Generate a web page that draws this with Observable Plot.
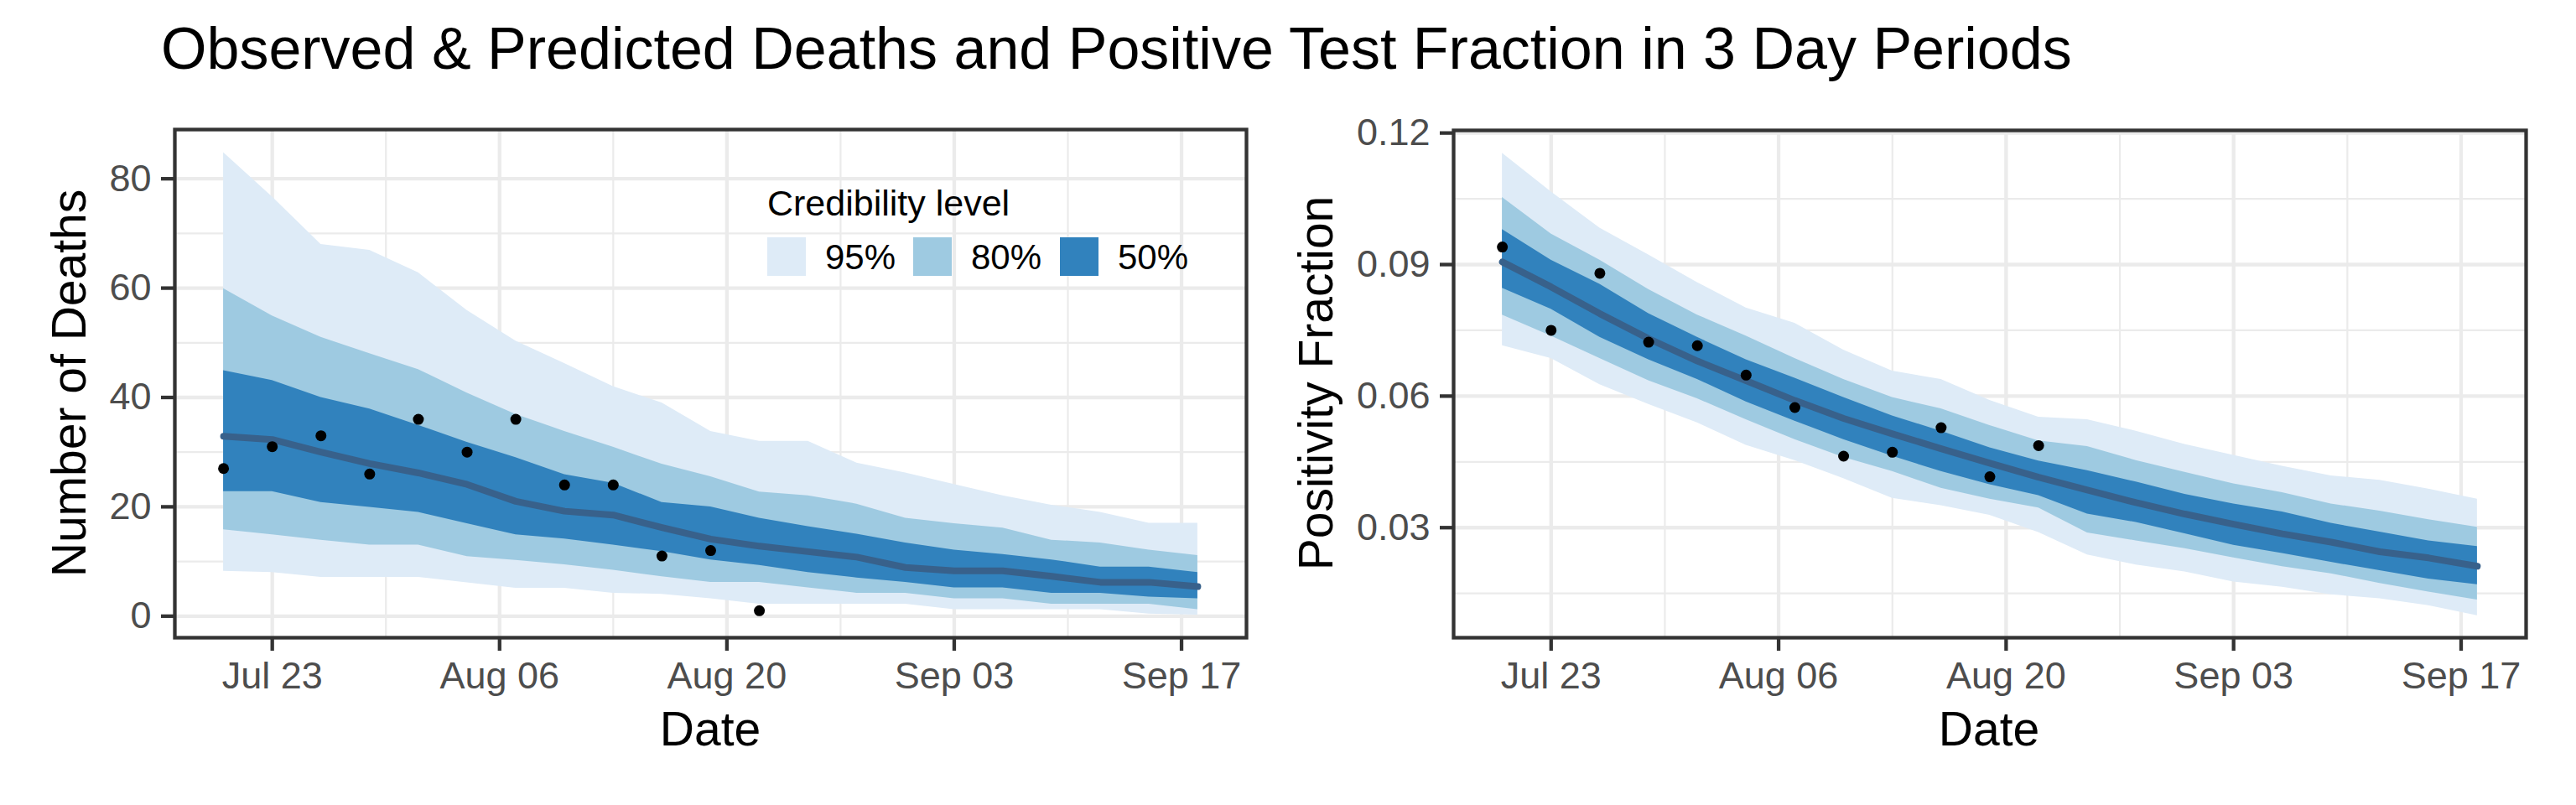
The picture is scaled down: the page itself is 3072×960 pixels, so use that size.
<!DOCTYPE html>
<html><head><meta charset="utf-8">
<script src="https://cdn.jsdelivr.net/npm/d3@7"></script>
<script src="https://cdn.jsdelivr.net/npm/@observablehq/plot@0.6"></script>
<style>
body{margin:0;background:#fff;}
#wrap{position:relative;width:3072px;height:960px;background:#fff;font-family:"Liberation Sans",Arial,sans-serif;overflow:hidden;}
.abs{position:absolute;white-space:nowrap;line-height:1;}
.chart{position:absolute;top:130px;}
</style></head><body><div id="wrap"></div>
<script>
// ---- data ----
const dates = ["2020-07-20","2020-07-23","2020-07-26","2020-07-29","2020-08-01","2020-08-04","2020-08-07","2020-08-10","2020-08-13","2020-08-16","2020-08-19","2020-08-22","2020-08-25","2020-08-28","2020-08-31","2020-09-03","2020-09-06","2020-09-09","2020-09-12","2020-09-15","2020-09-18"];

const deathsHi95 = [84.8, 76.7, 68, 66.9, 62.8, 55.9, 50.3, 46.2, 42, 39, 33.8, 32, 32, 28, 26.2, 24.1, 22, 20.3, 19, 17, 17];
const deathsHi80 = [59.9, 54.9, 51, 48, 45.1, 40.8, 36.9, 33.8, 30.9, 27.8, 25.5, 22.7, 22, 20.5, 17.9, 16.9, 16.1, 13.9, 13.4, 12.1, 11.1];
const deathsHi50 = [44.9, 43.1, 40, 37.9, 34.9, 31.8, 29, 25.9, 24.3, 20.8, 20, 17.9, 16.4, 15, 13.4, 12.1, 11.3, 10.3, 9, 9, 8];
const deathsMed  = [32.9, 32.3, 30, 27.9, 26.2, 24.1, 21, 19.2, 18.5, 16.2, 14.1, 12.8, 11.8, 10.8, 8.9, 8.3, 8.3, 7.3, 6.2, 6.2, 5.4];
const deathsLo50 = [22.8, 22.8, 20.8, 19.9, 19, 16.9, 14.9, 14.1, 13, 11.8, 10.3, 9.3, 8, 7, 6.2, 5.2, 5.2, 4.2, 4.2, 3.5, 3.2];
const deathsLo80 = [15.8, 14.9, 13.9, 13, 13, 10.9, 10.2, 9.4, 8.4, 7.2, 6.2, 6.2, 5.2, 4.2, 4.2, 3.2, 3.2, 2.2, 2.2, 2.2, 1.2];
const deathsLo95 = [8.2, 8, 7.1, 7.1, 7.1, 6.1, 5.1, 5.1, 4.2, 4, 3.2, 2.2, 2.2, 2.2, 2.2, 1.2, 1.2, 1.2, 1.2, 0.4, 0.2];
const deathsObs  = [27, 31, 33, 26, 36, 30, 36, 24, 24, 11, 12, 1];

const posHi95 = [0.1154, 0.1066, 0.0983, 0.0922, 0.0859, 0.0801, 0.0766, 0.0705, 0.0657, 0.0638, 0.059, 0.0552, 0.0546, 0.052, 0.049, 0.0465, 0.044, 0.0418, 0.0408, 0.0388, 0.0365];
const posHi80 = [0.1053, 0.097, 0.091, 0.0843, 0.0785, 0.0737, 0.0686, 0.0638, 0.0597, 0.0571, 0.0533, 0.0498, 0.0485, 0.0453, 0.0426, 0.04, 0.038, 0.0354, 0.0338, 0.0318, 0.0301];
const posHi50 = [0.098, 0.091, 0.0855, 0.0788, 0.0734, 0.0683, 0.0641, 0.0597, 0.0555, 0.052, 0.0482, 0.0452, 0.043, 0.0404, 0.0376, 0.0354, 0.0336, 0.031, 0.029, 0.027, 0.0257];
const posMed  = [0.0906, 0.0849, 0.0788, 0.0731, 0.068, 0.0635, 0.059, 0.0549, 0.0514, 0.048, 0.0447, 0.0415, 0.0386, 0.0357, 0.0331, 0.0308, 0.0286, 0.0267, 0.0245, 0.0231, 0.0212];
const posLo50 = [0.0846, 0.0798, 0.0734, 0.0683, 0.0638, 0.0587, 0.0543, 0.0501, 0.0463, 0.0428, 0.0398, 0.0373, 0.0331, 0.0312, 0.0286, 0.026, 0.0241, 0.0221, 0.0202, 0.0183, 0.017];
const posLo80 = [0.0785, 0.0737, 0.0686, 0.0635, 0.0594, 0.0546, 0.0501, 0.046, 0.0428, 0.039, 0.0365, 0.0345, 0.0288, 0.027, 0.0252, 0.0231, 0.0211, 0.0195, 0.0173, 0.0153, 0.0135];
const posLo95 = [0.0715, 0.0686, 0.0626, 0.0581, 0.0539, 0.0488, 0.0453, 0.0412, 0.0367, 0.035, 0.0328, 0.0289, 0.0238, 0.0215, 0.0199, 0.0176, 0.0164, 0.0147, 0.0138, 0.0122, 0.0099];
const posObs  = [0.094, 0.075, 0.088, 0.0723, 0.0715, 0.0648, 0.0574, 0.0463, 0.0472, 0.0528, 0.0416, 0.0487];

const levels = ["95%", "80%", "50%"];
const levelColors = ["#deebf7", "#9ecae1", "#3182bd"];
const medianColor = "#38618b";

const xTickDates = ["2020-07-23","2020-08-06","2020-08-20","2020-09-03","2020-09-17"];
const xMinorDates = ["2020-07-30","2020-08-13","2020-08-27","2020-09-10"];
const xDomainDates = ["2020-07-17","2020-09-21"];

const deathsTicks = [0, 20, 40, 60, 80];
const deathsMinor = [10, 30, 50, 70];
const posTicks = [0.03, 0.06, 0.09, 0.12];
const posMinor = [0.015, 0.045, 0.075, 0.105];

const titleText = "Observed & Predicted Deaths and Positive Test Fraction in 3 Day Periods";
const legendTitle = "Credibility level";

// ---- build ----
const D = s => new Date(s + "T00:00:00Z");
const xTicks = xTickDates.map(D), xMinor = xMinorDates.map(D), xDomain = xDomainDates.map(D);
const fmt = d3.utcFormat("%b %d");

function rowsOf(lo95, lo80, lo50, med, hi50, hi80, hi95) {
  return dates.map((d, i) => ({date: D(d), lo95: lo95[i], lo80: lo80[i], lo50: lo50[i], med: med[i], hi50: hi50[i], hi80: hi80[i], hi95: hi95[i]}));
}
const deathRows = rowsOf(deathsLo95, deathsLo80, deathsLo50, deathsMed, deathsHi50, deathsHi80, deathsHi95);
const posRows = rowsOf(posLo95, posLo80, posLo50, posMed, posHi50, posHi80, posHi95);
const deathPts = deathsObs.map((v, i) => ({date: D(dates[i]), value: v}));
const posPts = posObs.map((v, i) => ({date: D(dates[i]), value: v}));

const FONT = "Liberation Sans, Arial, sans-serif";

function panel({rows, pts, yDomain, yTicks, yMinor, yFormat, marginLeft, marginRight, marginTop}) {
  return Plot.plot({
    width: 1536, height: 830,
    marginLeft, marginRight, marginTop, marginBottom: 200,
    style: {fontFamily: FONT, background: "white", overflow: "visible"},
    x: {type: "utc", domain: xDomain},
    y: {domain: yDomain},
    marks: [
      Plot.ruleY(yMinor, {stroke: "#ebebeb", strokeWidth: 2.2}),
      Plot.ruleX(xMinor, {stroke: "#ebebeb", strokeWidth: 2.2}),
      Plot.ruleY(yTicks, {stroke: "#ebebeb", strokeWidth: 4.3}),
      Plot.ruleX(xTicks, {stroke: "#ebebeb", strokeWidth: 4.3}),
      Plot.areaY(rows, {x: "date", y1: "lo95", y2: "hi95", fill: levelColors[0]}),
      Plot.areaY(rows, {x: "date", y1: "lo80", y2: "hi80", fill: levelColors[1]}),
      Plot.areaY(rows, {x: "date", y1: "lo50", y2: "hi50", fill: levelColors[2]}),
      Plot.lineY(rows, {x: "date", y: "med", stroke: medianColor, strokeWidth: 8}),
      Plot.dot(pts, {x: "date", y: "value", r: 6.5, fill: "black"}),
      Plot.frame({stroke: "#333333", strokeWidth: 4.3}),
      Plot.axisX(xTicks, {tickFormat: fmt, tickSize: 16, tickPadding: 13, stroke: "#333333", strokeWidth: 4.3, fill: "#4d4d4d", fontSize: 45, label: null}),
      Plot.axisY(yTicks, {tickFormat: yFormat, tickSize: 16, tickPadding: 12, stroke: "#333333", strokeWidth: 4.3, fill: "#4d4d4d", fontSize: 45, label: null})
    ]
  });
}

const wrap = document.getElementById("wrap");

const left = panel({rows: deathRows, pts: deathPts, yDomain: [-3.94, 89.0], yTicks: deathsTicks, yMinor: deathsMinor, yFormat: d3.format("d"), marginLeft: 208, marginRight: 50, marginTop: 24});
left.classList.add("chart"); left.style.left = "0px";
wrap.appendChild(left);

const right = panel({rows: posRows, pts: posPts, yDomain: [0.0049, 0.1206], yTicks: posTicks, yMinor: posMinor, yFormat: d3.format(".2f"), marginLeft: 197, marginRight: 60, marginTop: 25});
right.classList.add("chart"); right.style.left = "1536px";
wrap.appendChild(right);

function addText(txt, {left, top, size, color = "#000", center = false, rotate = false}) {
  const el = document.createElement("div");
  el.className = "abs";
  el.textContent = txt;
  el.style.fontSize = size + "px";
  el.style.color = color;
  el.style.left = left + "px";
  el.style.top = top + "px";
  if (rotate) el.style.transform = "translate(-50%,-50%) rotate(-90deg)";
  else if (center) el.style.transform = "translate(-50%,-50%)";
  wrap.appendChild(el);
  return el;
}
// title (baseline ~82)
addText(titleText, {left: 192, top: 82 - 0.8465 * 70, size: 70});
// axis titles
addText("Number of Deaths", {left: 82, top: 457, size: 57, rotate: true});
addText("Positivity Fraction", {left: 1569, top: 457, size: 57, rotate: true});
addText("Date", {left: 847, top: 869, size: 57, center: true});
addText("Date", {left: 2372, top: 869, size: 57, center: true});

// legend
addText(legendTitle, {left: 915, top: 257 - 0.8465 * 43, size: 43});
const keyX = [915, 1089, 1264];
levels.forEach((lv, i) => {
  const k = document.createElement("div");
  k.style.cssText = `position:absolute;left:${keyX[i]}px;top:283px;width:46px;height:46px;background:${levelColors[i]}`;
  wrap.appendChild(k);
  addText(lv, {left: keyX[i] + 69, top: 322 - 0.8465 * 42, size: 42});
});
</script></body></html>
